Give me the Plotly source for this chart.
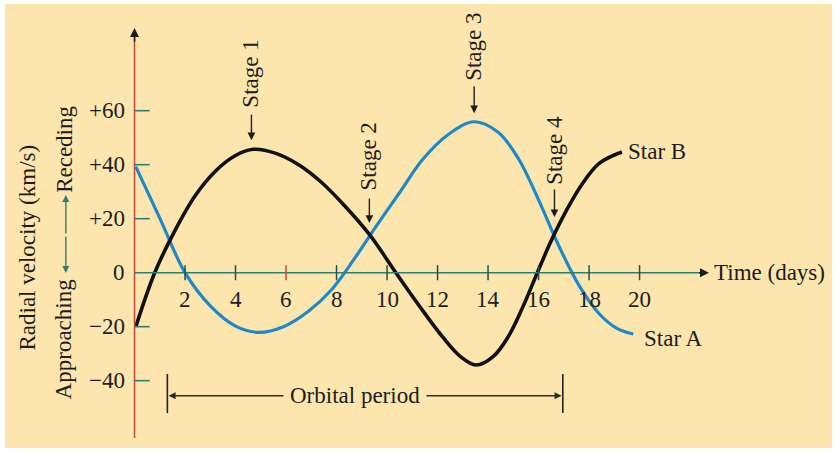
import plotly.graph_objects as go

# ---- data ----
star_b_x = [0.05, 0.8, 1.6, 2.4, 3.2, 4.0, 4.7, 5.6, 6.5, 7.4, 8.3, 9.3, 10.35,
            11.3, 12.2, 12.9, 13.52, 14.2, 14.8, 15.4, 15.95, 16.5, 17.1, 17.7,
            18.4, 19.3]
star_b_y = [-20, 0, 15.6, 28.5, 37.6, 43.4, 45.7, 44.2, 40, 33.5, 25, 14.2, 0,
            -12.6, -23.8, -31, -34.2, -31.1, -23.7, -12.2, 0, 11.8, 23, 32.5,
            40.5, 44.7]

star_a_x = [0.05, 1.0, 2.0, 3.0, 4.0, 4.9, 5.9, 6.9, 7.8, 8.7, 9.6, 10.5, 11.4,
            12.4, 13.45, 14.4, 15.2, 16.0, 16.8, 17.6, 18.4, 19.1, 19.75]
star_a_y = [39.3, 20.2, 0, -12.3, -19.8, -22.1, -20, -14.2, -6.3, 5.1, 17.6, 29.7, 41.8,
            51, 55.9, 52, 42.3, 27, 10, -4.7, -15.2, -20.6, -22.7]

x_ticks = [2, 4, 6, 8, 10, 12, 14, 16, 18, 20]
x_tick_labels = ["2", "4", "6", "8", "10", "12", "14", "16", "18", "20"]
y_ticks = [60, 40, 20, 0, -20, -40]
y_tick_labels = ["+60", "+40", "+20", "0", "\u221220", "\u221240"]

stages = ["Stage 1", "Stage 2", "Stage 3", "Stage 4"]
stage_x = [4.63, 9.3, 13.45, 16.63]          # arrow positions (days)
stage_tip_y = [49.1, 18.4, 59.1, 20.6]       # arrow tips (km/s)

period_start, period_end = 1.3, 16.96

# ---- styles ----
FONT = "Liberation Serif"
TXT = "#1c1c1c"
BG = "#FCE6AE"
TEAL = "#2f7f70"
TICK = "#234f4a"
RED = "#c8463c"
FS = 23

fig = go.Figure()
fig.add_trace(go.Scatter(x=star_a_x, y=star_a_y, mode="lines",
                         line=dict(color="#1f88c9", width=3.2, shape="spline", smoothing=1.0),
                         name="Star A", hoverinfo="skip"))
fig.add_trace(go.Scatter(x=star_b_x, y=star_b_y, mode="lines",
                         line=dict(color="#111111", width=3.6, shape="spline", smoothing=1.0),
                         name="Star B", hoverinfo="skip"))

shapes = []
# axes
shapes.append(dict(type="line", xref="x", yref="y", x0=0, x1=0, y0=-61.2, y1=89,
                   line=dict(color=RED, width=1.5)))
shapes.append(dict(type="line", xref="x", yref="y", x0=0, x1=22.4, y0=0, y1=0,
                   line=dict(color=TEAL, width=1.6)))
# x ticks
for v in x_ticks:
    c = RED if v == 6 else TICK
    shapes.append(dict(type="line", xref="x", yref="y", x0=v, x1=v, y0=-2.8, y1=2.8,
                       line=dict(color=c, width=1.5)))
# y ticks
for v in y_ticks:
    if v == 0:
        continue
    shapes.append(dict(type="line", xref="x", yref="y", x0=0, x1=0.6, y0=v, y1=v,
                       line=dict(color=TEAL, width=1.6)))
# orbital period bars
for v in (period_start, period_end):
    shapes.append(dict(type="line", xref="x", yref="y", x0=v, x1=v, y0=-37.5, y1=-52,
                       line=dict(color="#222222", width=1.6)))

ann = []
def text(x, y, s, xa="center", ya="middle", angle=0, size=FS):
    ann.append(dict(x=x, y=y, xref="x", yref="y", text=s, showarrow=False,
                    xanchor=xa, yanchor=ya, textangle=angle,
                    font=dict(family=FONT, size=size, color=TXT)))

def arrow(x, y, ax, ay, color="#1c1c1c", head=2, width=1.4, size=1.0):
    ann.append(dict(x=x, y=y, ax=ax, ay=ay, xref="x", yref="y", axref="x", ayref="y",
                    text="", showarrow=True, arrowhead=head, arrowsize=size,
                    arrowwidth=width, arrowcolor=color))

# tick labels
for v, s in zip(x_ticks, x_tick_labels):
    text(v, -10.1, s)
for v, s in zip(y_ticks, y_tick_labels):
    text(-0.3, v, s, xa="right")

# axis arrowheads
arrow(0, 90.6, 0, 85, head=2, width=1.5, size=1.2)
arrow(22.75, 0, 22.3, 0, head=2, width=1.5, size=1.2)

text(22.87, 0, "Time (days)", xa="left")
text(-4.22, 9.3, "Radial velocity (km/s)", angle=-90)
text(-2.8, -24.4, "Approaching", angle=-90)
text(-2.8, 45.8, "Receding", angle=-90)
arrow(-2.72, 28.8, -2.72, 14, color=TEAL, head=2, width=1.4)
arrow(-2.72, -0.1, -2.72, 14, color=TEAL, head=2, width=1.4)

# stage labels + arrows
stage_text_y = [73.6, 42.9, 83.8, 45.4]
stage_tail_y = [59.1, 28.0, 69.5, 31.4]
for s, x, ty, tip, tail in zip(stages, stage_x, stage_text_y, stage_tip_y, stage_tail_y):
    text(x - 0.03, ty, s, angle=-90)
    arrow(x, tip, x, tail, head=2, width=1.4, size=1.1)

# star labels
text(19.47, 44.8, "Star B", xa="left")
text(20.1, -24.2, "Star A", xa="left")

# orbital period
text(8.73, -45.6, "Orbital period")
arrow(period_start + 0.05, -45.6, 5.95, -45.6, color="#2b2b2b", head=2, width=1.4)
arrow(period_end - 0.05, -45.6, 11.5, -45.6, color="#2b2b2b", head=2, width=1.4)

fig.update_layout(
    width=840, height=459,
    margin=dict(l=5, r=8, t=4, b=11, pad=0),
    paper_bgcolor="white", plot_bgcolor=BG,
    showlegend=False,
    xaxis=dict(range=[-5.129, 27.62], visible=False, fixedrange=True),
    yaxis=dict(range=[-64.93, 99.52], visible=False, fixedrange=True),
    shapes=shapes, annotations=ann,
)
fig.write_html("out.html", config={"displayModeBar": False},
               post_script="document.body.style.margin='0px';")
